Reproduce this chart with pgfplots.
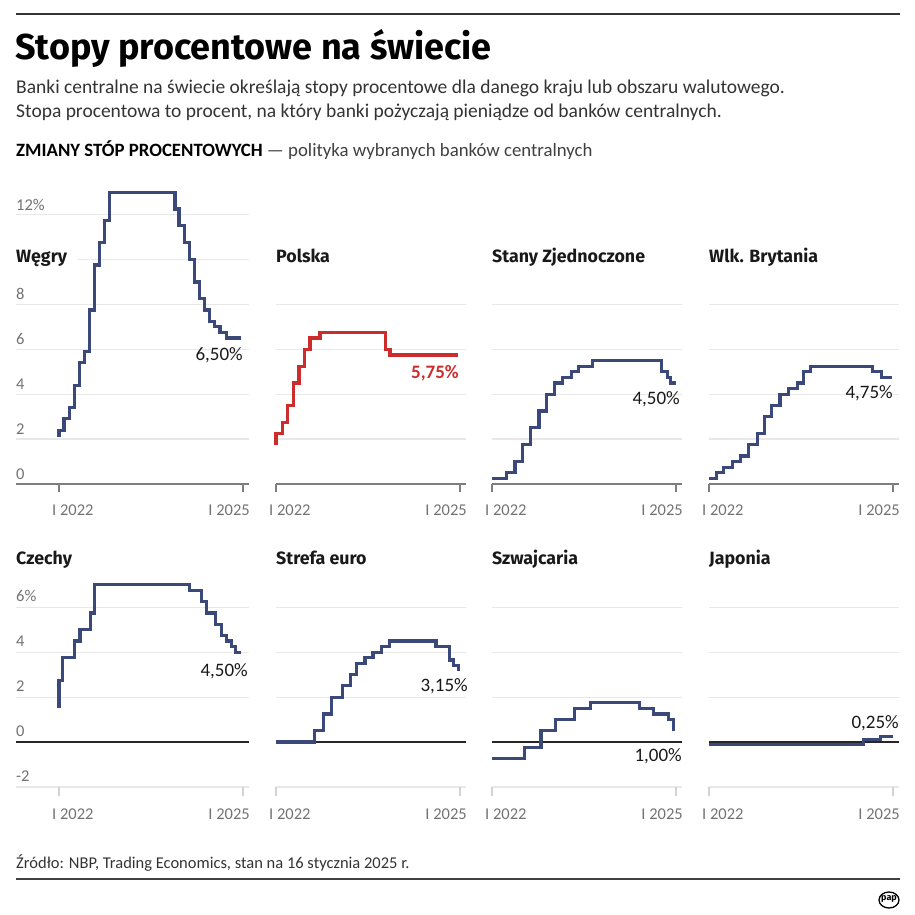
\documentclass[border=0pt]{standalone}
\usepackage{fontspec}
\setmainfont{Carlito}
\newfontfamily\fira{Fira Sans}
\usepackage{pgfplots}
\pgfplotsset{compat=1.18}
\definecolor{navy}{RGB}{58,72,122}
\definecolor{pred}{RGB}{204,44,44}
\definecolor{gridc}{RGB}{232,232,232}
\definecolor{tickc}{RGB}{115,115,115}
\definecolor{axc}{RGB}{125,125,125}
\definecolor{txt}{RGB}{25,25,25}
\newcommand{\fs}[1]{\fontsize{#1pt}{#1pt}\selectfont}
\pgfplotsset{
  panel/.style={scale only axis, axis line style={draw=none}, major tick length=0pt,
    xtick=\empty, xticklabels={}, yticklabels={}, ymajorgrids,
    major grid style={draw=gridc, line width=1.2pt}, clip=false, xmax=37.2},
  top/.style={panel, height=298.6pt, ymin=0, ymax=13.3, ytick={2,4,6,8}},
  bot/.style={panel, height=208.8pt, ymin=-2, ymax=7.3, ytick={-2,2,4,6},
    extra y ticks={0}, extra y tick labels={},
    extra y tick style={major grid style={draw=black!85, line width=1.2pt}}},
  narrow/.style={width=190.1pt, xmin=0},
  wide/.style={width=233.1pt, xmin=-8.41},
  ser/.style={const plot, line width=3.2pt, color=navy, line join=miter},
}
\newcommand{\toptick}{%
  \draw[axc, line width=2pt] (rel axis cs:0,0) -- (rel axis cs:1,0);
  \draw[axc, line width=1.5pt] (axis cs:0,0) -- ++(0pt,-8pt);
  \draw[axc, line width=1.5pt] (axis cs:36,0) -- ++(0pt,-8pt);}
\newcommand{\bottick}{%
  \draw[gridc!80!gray, line width=1.2pt] (axis cs:0,-2) -- ++(0pt,-9pt);
  \draw[gridc!80!gray, line width=1.2pt] (axis cs:36,-2) -- ++(0pt,-9pt);}
\begin{document}
\begin{tikzpicture}
\path[use as bounding box] (0pt,0pt) rectangle (915pt,914pt);
% ---------- top row ----------
\begin{axis}[top, wide, ytick={2,4,6,8,10,12}, at={(16pt,430pt)}, anchor=south west]
\toptick
\addplot[ser] coordinates {(0,2.1) (0,2.4) (1,2.9) (2,3.4) (3,4.4) (4,5.4) (5,5.9) (5.95,7.75) (6.9,9.75) (7.9,10.75) (8.9,11.75) (9.85,13.0) (22.7,12.25) (23.5,11.5) (24.5,10.75) (25.5,10.0) (26.5,9.0) (27.5,8.25) (28.5,7.75) (29.5,7.25) (30.4,7.0) (31.5,6.75) (32.7,6.5) (35.7,6.5)};
\end{axis}
\begin{axis}[top, narrow, at={(276pt,430pt)}, anchor=south west]
\toptick
\addplot[ser, color=pred] coordinates {(0,1.75) (0,2.25) (1.2,2.75) (2.3,3.5) (3.4,4.5) (4.5,5.25) (5.5,6.0) (6.65,6.5) (8.6,6.75) (21.5,6.0) (22.3,5.75) (35.7,5.75)};
\end{axis}
\begin{axis}[top, narrow, at={(492pt,430pt)}, anchor=south west]
\toptick
\addplot[ser] coordinates {(0,0.25) (2.9,0.5) (4.5,1.0) (5.9,1.75) (7.6,2.5) (9.2,3.25) (10.6,4.0) (12.2,4.5) (13.8,4.75) (15.5,5.0) (16.9,5.25) (19.6,5.5) (33.1,5.0) (34.4,4.75) (35.0,4.5) (36.1,4.5)};
\end{axis}
\begin{axis}[top, narrow, at={(709pt,430pt)}, anchor=south west]
\toptick
\addplot[ser] coordinates {(0,0.25) (1.4,0.5) (2.9,0.75) (4.6,1.0) (6.2,1.25) (7.8,1.75) (9.5,2.25) (10.8,3.0) (12.3,3.5) (13.9,4.0) (15.5,4.25) (17.3,4.5) (18.5,5.0) (19.9,5.25) (32.0,5.0) (33.8,4.75) (35.9,4.75)};
\end{axis}
% ---------- bottom row ----------
\begin{axis}[bot, wide, at={(16pt,127.1pt)}, anchor=south west]
\bottick
\addplot[ser] coordinates {(0,1.5) (0,2.75) (0.7,3.75) (3.0,4.5) (4.1,5.0) (6.1,5.75) (7.0,7.0) (25.6,6.75) (27.9,6.25) (28.9,5.75) (30.7,5.25) (31.8,4.75) (32.8,4.5) (33.8,4.25) (34.6,4.0) (35.6,4.0)};
\end{axis}
\begin{axis}[bot, narrow, at={(276pt,127.1pt)}, anchor=south west]
\bottick
\addplot[ser] coordinates {(0,0) (7.6,0.5) (9.3,1.25) (10.9,2.0) (13.0,2.5) (14.6,3.0) (15.8,3.5) (17.4,3.75) (19.0,4.0) (20.7,4.25) (22.2,4.5) (31.3,4.25) (34.0,3.65) (34.7,3.4) (35.7,3.15)};
\end{axis}
\begin{axis}[bot, narrow, at={(492pt,127.1pt)}, anchor=south west]
\bottick
\addplot[ser] coordinates {(0,-0.75) (6.3,-0.25) (9.6,0.5) (12.5,1.0) (16.1,1.5) (19.2,1.75) (28.8,1.5) (31.6,1.25) (34.5,1.0) (35.5,0.5)};
\end{axis}
\begin{axis}[bot, narrow, at={(709pt,127.1pt)}, anchor=south west]
\bottick
\addplot[ser] coordinates {(0,-0.1) (30.2,0.1) (33.5,0.25) (36.1,0.25)};
\end{axis}
% ---------- header ----------
\draw[black!80, line width=2.5pt] (16pt,900pt) -- (900pt,900pt);
\node[anchor=base west, inner sep=0pt, text=black] at (15pt,854pt) {\fira\bfseries\fs{36}Stopy procentowe na świecie};
\node[anchor=base west, inner sep=0pt, text=black!80] at (16pt,820pt) {\fs{19.5}Banki centralne na świecie określają stopy procentowe dla danego kraju lub obszaru walutowego.};
\node[anchor=base west, inner sep=0pt, text=black!80] at (16pt,796pt) {\fs{19.5}Stopa procentowa to procent, na który banki pożyczają pieniądze od banków centralnych.};
\node[anchor=base west, inner sep=0pt] at (16pt,757pt) {\fs{18.8}\textbf{ZMIANY STÓP PROCENTOWYCH} \textcolor{black!75}{— polityka wybranych banków centralnych}};
% ---------- panel titles ----------
\node[anchor=base west, inner xsep=0pt, inner ysep=3pt, fill=white, text=txt] at (16pt,651pt) {\fira\bfseries\fs{17.8}Węgry\hspace*{11pt}};
\node[anchor=base west, inner sep=0pt, text=txt] at (276pt,651pt) {\fira\bfseries\fs{17.8}Polska};
\node[anchor=base west, inner sep=0pt, text=txt] at (492pt,651pt) {\fira\bfseries\fs{17.8}Stany Zjednoczone};
\node[anchor=base west, inner sep=0pt, text=txt] at (709pt,651pt) {\fira\bfseries\fs{17.8}Wlk. Brytania};
\node[anchor=base west, inner sep=0pt, text=txt] at (16pt,350pt) {\fira\bfseries\fs{17.8}Czechy};
\node[anchor=base west, inner sep=0pt, text=txt] at (276pt,350pt) {\fira\bfseries\fs{17.8}Strefa euro};
\node[anchor=base west, inner sep=0pt, text=txt] at (492pt,350pt) {\fira\bfseries\fs{17.8}Szwajcaria};
\node[anchor=base west, inner sep=0pt, text=txt] at (709pt,350pt) {\fira\bfseries\fs{17.8}Japonia};
% ---------- y tick labels ----------
\begin{scope}[every node/.style={anchor=base west, inner sep=0pt, text=tickc, font=\fs{16.5}}]
\node at (16pt,703.4pt) {12\%};
\node at (16pt,614.6pt) {8};
\node at (16pt,569.7pt) {6};
\node at (16pt,524.8pt) {4};
\node at (16pt,479.9pt) {2};
\node at (16pt,435pt) {0};
\node at (16pt,312.2pt) {6\%};
\node at (16pt,267.3pt) {4};
\node at (16pt,222.4pt) {2};
\node at (16pt,177.5pt) {0};
\node at (16pt,132.6pt) {-2};
\end{scope}
% ---------- x tick labels ----------
\begin{scope}[every node/.style={inner sep=0pt, text=tickc, font=\fs{16.5}}]
\foreach \t in {59,276,492,709} {
  \node[anchor=base west] at (\t pt-7pt,398.5pt) {I 2022};
  \node[anchor=base east] at (\t pt+191pt,398.5pt) {I 2025};
  \node[anchor=base west] at (\t pt-7pt,94.5pt) {I 2022};
  \node[anchor=base east] at (\t pt+191pt,94.5pt) {I 2025};
}
\end{scope}
% ---------- value labels ----------
\begin{scope}[every node/.style={anchor=base east, inner sep=0pt, text=txt, font=\fs{19}}]
\node at (243pt,553pt) {6,50\%};
\node[text=pred, font=\fs{19}\bfseries] at (459pt,535pt) {5,75\%};
\node at (680pt,509pt) {4,50\%};
\node at (893pt,515pt) {4,75\%};
\node at (248pt,238pt) {4,50\%};
\node at (468pt,223pt) {3,15\%};
\node at (682pt,153pt) {1,00\%};
\node at (899pt,186pt) {0,25\%};
\end{scope}
% ---------- footer ----------
\node[anchor=base west, inner sep=0pt, text=black!80] at (16pt,45.5pt) {\fs{16.5}Źródło: NBP, Trading Economics, stan na 16 stycznia 2025 r.};
\draw[black!75, line width=2.5pt] (16pt,35pt) -- (900pt,35pt);
\draw[black, line width=1.3pt] (889pt,14pt) ellipse (10pt and 8pt);
\node[inner sep=0pt] at (889pt,14.5pt) {\fira\bfseries\fs{9}pap};
\end{tikzpicture}
\end{document}
